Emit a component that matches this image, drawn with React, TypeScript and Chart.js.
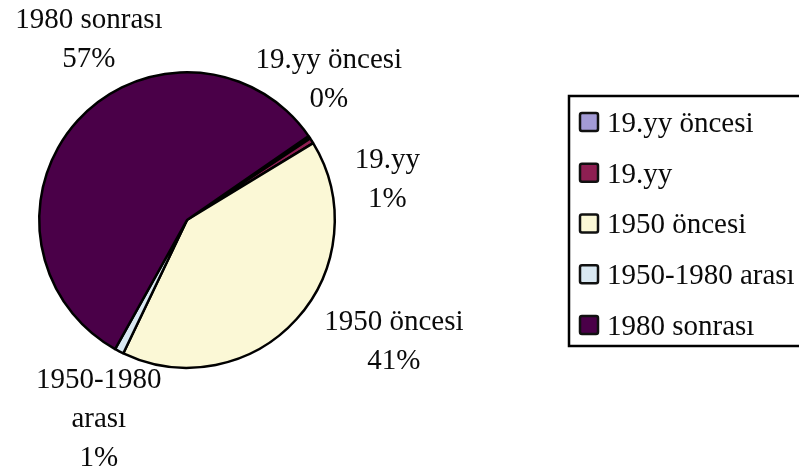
import React, { useEffect, useRef } from "react";
import { Chart, registerables } from "chart.js";

Chart.register(...registerables);

// ---- data ----
const categories = ["19.yy öncesi", "19.yy", "1950 öncesi", "1950-1980 arası", "1980 sonrası"];
const shares = [0.3, 0.6, 40.8, 1.0, 57.3];
const sliceColors = ["#A39BD6", "#8E1F52", "#FBF8D6", "#D9E8F2", "#4A0048"];

// ---- layout (not data) ----
const W = 799;
const H = 475;
const FONT = "29px 'Liberation Serif', 'Times New Roman', serif";
const LINE_GAP = 39;
// label block centers, relative to pie center in units of radius
const LABEL_OFFSETS: [number, number][] = [
  [0.96, -0.963],
  [1.356, -0.289],
  [1.4, 0.812],
  [-0.597, 1.332],
  [-0.664, -1.236],
];
const LABEL_WRAP = [false, false, false, true, false];
const LEGEND_BOX = { left: 569, top: 96, right: 812, bottom: 346 };
const LEGEND_ROW0 = 122;
const LEGEND_ROW_GAP = 50.75;
const SWATCH_X = 580;
const SWATCH = 18;
const LEGEND_TEXT_X = 607;

const labelPlugin = {
  id: "sliceLabels",
  afterDatasetsDraw(chart: any) {
    const ctx = chart.ctx;
    const meta = chart.getDatasetMeta(0);
    const values: number[] = chart.data.datasets[0].data;
    const total = values.reduce((a, b) => a + b, 0);
    ctx.save();
    ctx.font = FONT;
    ctx.fillStyle = "#0a0a0a";
    ctx.textAlign = "center";
    ctx.textBaseline = "alphabetic";
    meta.data.forEach((arc: any, i: number) => {
      const r = arc.outerRadius;
      const cx = arc.x + LABEL_OFFSETS[i][0] * r;
      const cy = arc.y + LABEL_OFFSETS[i][1] * r;
      const name = chart.data.labels[i] as string;
      const lines = (LABEL_WRAP[i] ? name.split(" ") : [name]).concat([
        Math.round((values[i] / total) * 100) + "%",
      ]);
      const startY = cy - ((lines.length - 1) * LINE_GAP) / 2;
      lines.forEach((ln, k) => {
        ctx.fillText(ln, cx, startY + k * LINE_GAP + 9.8);
      });
    });
    ctx.restore();
  },
};

const legendPlugin = {
  id: "boxLegend",
  afterDraw(chart: any) {
    const ctx = chart.ctx;
    const ds = chart.data.datasets[0];
    ctx.save();
    ctx.strokeStyle = "#000";
    ctx.lineWidth = 2.5;
    ctx.strokeRect(
      LEGEND_BOX.left,
      LEGEND_BOX.top,
      LEGEND_BOX.right - LEGEND_BOX.left,
      LEGEND_BOX.bottom - LEGEND_BOX.top
    );
    ctx.font = FONT;
    ctx.textAlign = "left";
    ctx.textBaseline = "alphabetic";
    (chart.data.labels as string[]).forEach((name, i) => {
      const y = LEGEND_ROW0 + i * LEGEND_ROW_GAP;
      ctx.beginPath();
      const x0 = SWATCH_X;
      const y0 = y - SWATCH / 2;
      const rr = 2;
      ctx.moveTo(x0 + rr, y0);
      ctx.arcTo(x0 + SWATCH, y0, x0 + SWATCH, y0 + SWATCH, rr);
      ctx.arcTo(x0 + SWATCH, y0 + SWATCH, x0, y0 + SWATCH, rr);
      ctx.arcTo(x0, y0 + SWATCH, x0, y0, rr);
      ctx.arcTo(x0, y0, x0 + SWATCH, y0, rr);
      ctx.closePath();
      ctx.fillStyle = ds.backgroundColor[i];
      ctx.fill();
      ctx.lineWidth = 2.5;
      ctx.strokeStyle = "#111";
      ctx.stroke();
      ctx.fillStyle = "#0a0a0a";
      ctx.fillText(name, LEGEND_TEXT_X, y + 9.8);
    });
    ctx.restore();
  },
};

export default function App() {
  const ref = useRef<HTMLCanvasElement | null>(null);
  useEffect(() => {
    if (!ref.current) return;
    const chart = new Chart(ref.current, {
      type: "pie",
      data: {
        labels: categories,
        datasets: [
          {
            data: shares,
            backgroundColor: sliceColors,
            borderColor: "#000",
            borderWidth: 2.5,
            hoverOffset: 0,
            offset: 0,
          },
        ],
      },
      options: {
        responsive: false,
        animation: false,
        devicePixelRatio: 1,
        rotation: 55.4,
        layout: { padding: { left: 38, top: 71, right: 463, bottom: 106 } },
        plugins: {
          legend: { display: false },
          tooltip: { enabled: false },
        },
        events: [],
      },
      plugins: [labelPlugin, legendPlugin],
    } as any);
    return () => chart.destroy();
  }, []);
  return (
    <div style={{ position: "fixed", left: 0, top: 0, width: W, height: H, background: "#fff" }}>
      <canvas ref={ref} width={W} height={H} style={{ display: "block" }} />
    </div>
  );
}
